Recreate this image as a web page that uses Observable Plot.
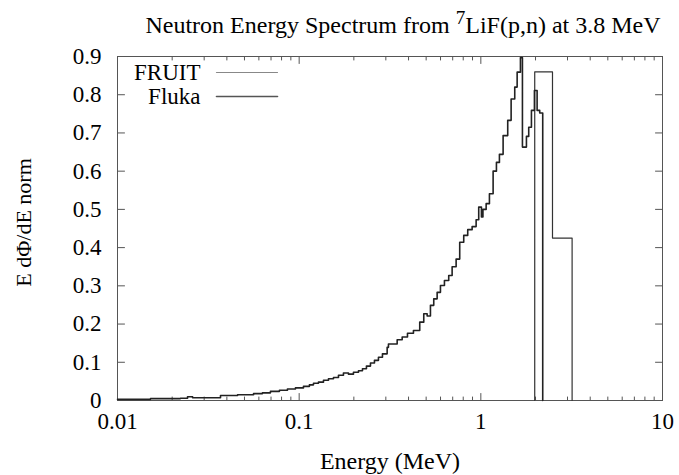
<!DOCTYPE html>
<html><head><meta charset="utf-8">
<script src="https://cdn.jsdelivr.net/npm/d3@7"></script>
<script src="https://cdn.jsdelivr.net/npm/@observablehq/plot@0.6"></script>
<style>
body{margin:0;background:#fff;font-family:"Liberation Serif","Times New Roman",Times,"DejaVu Serif",serif;color:#000;position:relative;}
#title{position:absolute;top:0;left:0;z-index:2;height:50px;line-height:50px;width:679px;box-sizing:border-box;padding-left:127px;text-align:center;font-size:24px;white-space:nowrap;}
#title sup{font-size:0.8em;line-height:0;vertical-align:0.45em}
</style></head><body>
<div id="title">Neutron Energy Spectrum from <sup>7</sup>LiF(p,n) at 3.8 MeV</div>
<div id="chart"></div>
<script>
// ---- data ----
const seriesNames = ["FRUIT", "Fluka"];
const flukaEnergy = [0.01,0.0152,0.0222,0.0243,0.0259,0.0369,0.0458,0.0561,0.0628,0.0695,0.0779,0.0862,0.0954,0.1056,0.1139,0.1199,0.1277,0.1361,0.1450,0.1545,0.1646,0.1753,0.1868,0.1990,0.2121,0.2231,0.2346,0.2469,0.2597,0.2732,0.2874,0.3050,0.3101,0.3463,0.3690,0.3947,0.4257,0.4610,0.4851,0.5064,0.5280,0.5506,0.5748,0.5994,0.6305,0.6657,0.6950,0.7311,0.7652,0.8051,0.8469,0.8956,0.9421,0.9736,1.0076,1.027,1.0696,1.1151,1.1685,1.2186,1.2657,1.3263,1.4061,1.4681,1.5370,1.5845,1.6519,1.6943,1.7824,1.8349,1.8990,1.9724,2.0408,2.1096,2.1912];
const flukaValue = [0.003,0.005,0.006,0.010,0.007,0.013,0.015,0.018,0.020,0.024,0.027,0.030,0.033,0.037,0.041,0.045,0.048,0.053,0.057,0.060,0.066,0.072,0.069,0.074,0.078,0.083,0.090,0.098,0.105,0.113,0.122,0.139,0.148,0.159,0.166,0.176,0.183,0.205,0.227,0.221,0.249,0.266,0.283,0.301,0.314,0.327,0.350,0.370,0.414,0.432,0.447,0.455,0.473,0.506,0.480,0.500,0.515,0.541,0.600,0.623,0.644,0.693,0.733,0.789,0.820,0.859,0.897,0.663,0.691,0.715,0.759,0.811,0.759,0.752,0];
const fruitEnergy = [1.98, 1.98, 2.48, 3.18];
const fruitValue = [0, 0.86, 0.425, 0];
const xTicks = [0.01, 0.1, 1, 10];
const xTickLabels = ["0.01", "0.1", "1", "10"];
const xMinorTicks = [0.02,0.03,0.04,0.05,0.06,0.07,0.08,0.09,0.2,0.3,0.4,0.5,0.6,0.7,0.8,0.9,2,3,4,5,6,7,8,9];
const yTicks = [0,0.1,0.2,0.3,0.4,0.5,0.6,0.7,0.8,0.9];
const yTickLabels = ["0","0.1","0.2","0.3","0.4","0.5","0.6","0.7","0.8","0.9"];
const xTitle = "Energy (MeV)";
const yTitle = "E d\u03A6/dE norm";

// ---- build ----
const fluka = flukaEnergy.map((e, i) => ({e, v: flukaValue[i]}));
const fruit = fruitEnergy.map((e, i) => ({e, v: fruitValue[i]}));
const tickShape = {draw(ctx, l) { ctx.moveTo(0, 0); ctx.lineTo(0, -l); }};
const frameColor = "#555";
const tickMarks = (data, ch, anchor, rotate, len) =>
  Plot.vector(data, {[ch]: d => d, frameAnchor: anchor, rotate, length: len, anchor: "start", shape: tickShape, stroke: frameColor, strokeWidth: 1});
const serif = '"Liberation Serif","Times New Roman",Times,"DejaVu Serif",serif';

const chart = Plot.plot({
  width: 679,
  height: 475,
  marginLeft: 117,
  marginRight: 17,
  marginTop: 56,
  marginBottom: 75,
  style: {fontFamily: serif, fontSize: "23px", color: "#000", background: "#fff"},
  x: {type: "log", domain: [0.01, 10]},
  y: {domain: [0, 0.9]},
  marks: [
    Plot.frame({stroke: frameColor, strokeWidth: 1}),
    tickMarks(xTicks, "x", "bottom", 0, 7),
    tickMarks(xMinorTicks, "x", "bottom", 0, 3.5),
    tickMarks(xTicks, "x", "top", 180, 7),
    tickMarks(xMinorTicks, "x", "top", 180, 3.5),
    tickMarks(yTicks, "y", "left", 90, 7),
    tickMarks(yTicks, "y", "right", -90, 7),
    Plot.axisX({ticks: xTicks, tickFormat: (d) => xTickLabels[xTicks.indexOf(d)], tickSize: 0, tickPadding: 12, label: null}),
    Plot.axisY({ticks: yTicks, tickFormat: (d) => yTickLabels[yTicks.indexOf(d)], tickSize: 0, tickPadding: 16, label: null}),
    Plot.text([xTitle], {frameAnchor: "bottom", dy: 61, textAnchor: "middle", lineAnchor: "middle", fontSize: 24}),
    Plot.text([yTitle], {frameAnchor: "left", dx: -94, dy: -6, rotate: -90, textAnchor: "middle", lineAnchor: "middle", fontSize: 22}),
    Plot.line(fruit, {x: "e", y: "v", curve: "step-after", stroke: "#333", strokeWidth: 1.2}),
    Plot.line(fluka, {x: "e", y: "v", curve: "step-after", stroke: "#222", strokeWidth: 1.6}),
    // legend
    Plot.text([seriesNames[0]], {frameAnchor: "top-left", dx: 83, dy: 16, textAnchor: "end", lineAnchor: "middle", fontSize: 23}),
    Plot.text([seriesNames[1]], {frameAnchor: "top-left", dx: 83, dy: 40, textAnchor: "end", lineAnchor: "middle", fontSize: 23}),
    Plot.vector([seriesNames[0]], {frameAnchor: "top-left", dx: 99, dy: 16, rotate: 90, length: 61, anchor: "start", shape: tickShape, stroke: "#888", strokeWidth: 1.2}),
    Plot.vector([seriesNames[1]], {frameAnchor: "top-left", dx: 99, dy: 40, rotate: 90, length: 61, anchor: "start", shape: tickShape, stroke: "#555", strokeWidth: 1.6})
  ]
});
document.getElementById("chart").appendChild(chart);
</script>
</body></html>
